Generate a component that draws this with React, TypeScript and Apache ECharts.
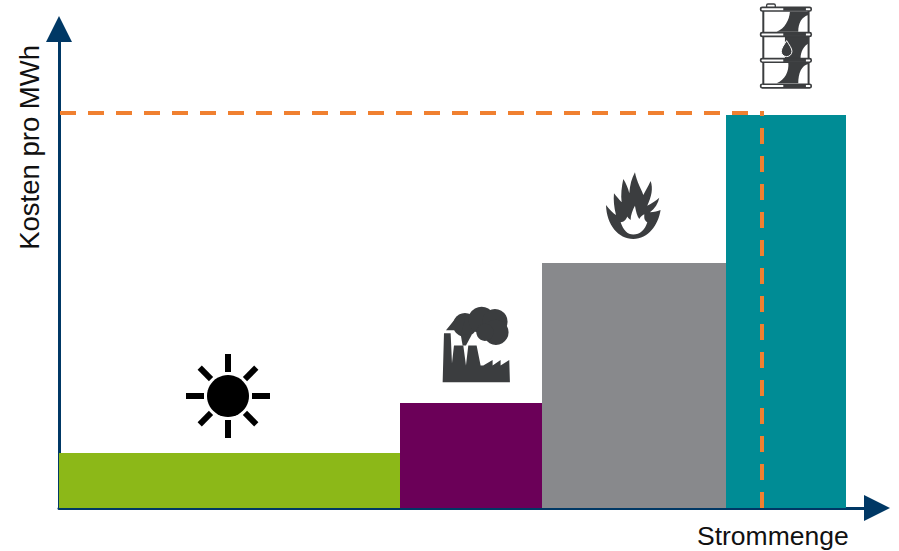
import React, { useEffect, useRef } from "react";
import * as echarts from "echarts";

// Merit order: each source has a cumulative quantity range and a cost per MWh.
const sources = ["Solar", "Kohle", "Gas", "Öl"];
const rangeStart = [0, 341, 483, 667];
const rangeEnd = [341, 483, 667, 787];
const costs = [55, 105, 245, 393];
const priceLevel = [395];
const marginalQuantity = [703];
const xAxisTitle = "Strommenge";
const yAxisTitle = "Kosten pro MWh";

const sourceColors = ["#8cb818", "#6b0058", "#88898c", "#008c95"];
const NAVY = "#003865";
const ORANGE = "#f08030";
const ICON_DARK = "#3b3d3f";

const FACTORY_D =
  "M38 262 L42 115 L62 115 L66 205 L72 152 L100 152 L108 212 L115 152 L140 152 L152 212 L160 212 L188 195 L188 212 L212 195 L212 212 L238 195 L240 262 Z";
const FLAME_D =
  "M130 222 C85 222 50 180 48 120 C60 135 70 145 78 150 C72 125 70 105 72 85 C80 95 88 105 95 112 C92 90 95 65 100 42 C108 55 115 70 118 85 C120 60 125 40 135 22 C140 50 155 75 160 90 C165 80 175 65 182 48 C190 70 185 95 172 122 C185 115 198 108 208 98 C205 115 195 130 180 142 C192 142 205 138 212 135 C205 180 175 222 130 222 Z";
const FLAME_CORE_D =
  "M92 172 C102 172 108 165 112 155 C115 160 118 163 122 165 C122 150 128 135 135 122 C138 140 142 155 148 162 C152 155 158 150 163 148 C163 160 162 165 172 172 C165 195 150 209 130 209 C112 209 100 195 92 172 Z";
const BARREL_SHADE_D =
  "M140 95 C165 85 178 60 180 35 L236 35 L236 45 C215 50 205 70 205 95 Z " +
  "M165 110 L236 110 L236 130 C222 138 212 155 212 175 L165 175 Z " +
  "M140 250 C165 240 178 215 175 188 L236 188 L236 192 C215 195 205 220 205 250 Z";
const DROP_D = "M170 122 C178 135 186 145 186 154 C186 164 178 170 170 170 C162 170 154 164 154 154 C154 145 162 135 170 122 Z";

echarts.graphic.registerShape("factoryIcon", echarts.graphic.extendPath(FACTORY_D, {}));
echarts.graphic.registerShape("flameIcon", echarts.graphic.extendPath(FLAME_D, {}));
echarts.graphic.registerShape("flameCore", echarts.graphic.extendPath(FLAME_CORE_D, {}));
echarts.graphic.registerShape("barrelShade", echarts.graphic.extendPath(BARREL_SHADE_D, {}));
echarts.graphic.registerShape("barrelDrop", echarts.graphic.extendPath(DROP_D, {}));

const sunRays = () =>
  [0, 45, 90, 135, 180, 225, 270, 315].map((deg) => {
    const a = (deg * Math.PI) / 180;
    const outer = deg % 90 === 0 ? 42 : 40;
    return {
      type: "line",
      shape: {
        x1: 228 + 24 * Math.cos(a),
        y1: 396 + 24 * Math.sin(a),
        x2: 228 + outer * Math.cos(a),
        y2: 396 + outer * Math.sin(a),
      },
      style: { stroke: "#000", lineWidth: 6 },
    };
  });

// The smoke cloud is a cluster of overlapping puffs with a trailing wisp.
const smokePuffs = [
  [105, 90, 36],
  [155, 75, 40],
  [195, 80, 38],
  [198, 112, 38],
  [165, 112, 26],
].map(([cx, cy, r]) => ({
  type: "circle",
  shape: { cx, cy, r },
  style: { fill: ICON_DARK },
}));

const smokeWisps = [
  [[48, 106], [82, 64], [105, 70], [95, 112], [76, 106]],
  [[92, 118], [98, 152], [108, 152], [125, 120]],
].map((points) => ({
  type: "polygon",
  shape: { points },
  style: { fill: ICON_DARK },
}));

const barrelHoop = (y: number) => [
  {
    type: "rect",
    shape: { x: 92, y: y - 5, width: 152, height: 11, r: 5 },
    style: { fill: "#fff", stroke: ICON_DARK, lineWidth: 5 },
  },
  {
    type: "rect",
    shape: { x: 160, y: y - 4, width: 68, height: 9 },
    style: { fill: ICON_DARK },
  },
];

const icons = [
  { type: "circle", shape: { cx: 228, cy: 396, r: 21 }, style: { fill: "#000" } },
  ...sunRays(),
  {
    type: "group",
    x: 430,
    y: 295,
    scaleX: 1 / 3,
    scaleY: 1 / 3,
    children: [...smokePuffs, ...smokeWisps, { type: "factoryIcon", style: { fill: ICON_DARK } }],
  },
  {
    type: "group",
    x: 590,
    y: 165,
    scaleX: 1 / 3,
    scaleY: 1 / 3,
    children: [
      { type: "flameIcon", style: { fill: ICON_DARK } },
      { type: "flameCore", style: { fill: "#fff" } },
    ],
  },
  {
    type: "group",
    x: 730,
    y: 0,
    scaleX: 1 / 3,
    scaleY: 1 / 3,
    children: [
      {
        type: "rect",
        shape: { x: 110, y: 12, width: 26, height: 12, r: 4 },
        style: { fill: "#fff", stroke: ICON_DARK, lineWidth: 4 },
      },
      { type: "line", shape: { x1: 100, y1: 27, x2: 100, y2: 258 }, style: { stroke: ICON_DARK, lineWidth: 6 } },
      { type: "line", shape: { x1: 236, y1: 27, x2: 236, y2: 258 }, style: { stroke: ICON_DARK, lineWidth: 6 } },
      { type: "barrelShade", style: { fill: ICON_DARK } },
      { type: "barrelDrop", style: { fill: ICON_DARK, stroke: "#fff", lineWidth: 3 } },
      ...barrelHoop(27),
      ...barrelHoop(103),
      ...barrelHoop(181),
      ...barrelHoop(258),
    ],
  },
];

const renderBlock = (params: any, api: any) => {
  const lo = api.coord([api.value(0), 0]);
  const hi = api.coord([api.value(1), api.value(2)]);
  return {
    type: "rect",
    shape: { x: lo[0], y: hi[1], width: hi[0] - lo[0], height: lo[1] - hi[1] },
    style: { fill: sourceColors[params.dataIndex] },
  };
};

const arrowLine = {
  show: true,
  symbol: ["none", "triangle"],
  symbolSize: [26, 26],
  lineStyle: { color: NAVY, width: 3 },
};

const dashStyle = { color: ORANGE, width: 4, type: [16, 12] as number[] };

export default function App() {
  const ref = useRef<HTMLDivElement>(null);
  useEffect(() => {
    const chart = echarts.init(ref.current!, undefined, { renderer: "svg" });
    chart.setOption({
      animation: false,
      backgroundColor: "#fff",
      grid: { left: 59, top: 29, width: 818, height: 479 },
      xAxis: {
        type: "value",
        min: 0,
        max: 818,
        axisLine: arrowLine,
        axisTick: { show: false },
        axisLabel: { show: false },
        splitLine: { show: false },
        name: xAxisTitle,
        nameLocation: "end",
        nameGap: -180,
        nameMoveOverlap: false,
        nameTextStyle: {
          fontFamily: "Liberation Sans",
          fontSize: 26.5,
          color: "#111",
          verticalAlign: "top",
          align: "left",
          padding: [14, 0, 0, 0],
        },
      },
      yAxis: {
        type: "value",
        min: 0,
        max: 479,
        axisLine: arrowLine,
        axisTick: { show: false },
        axisLabel: { show: false },
        splitLine: { show: false },
        name: yAxisTitle,
        nameLocation: "end",
        nameGap: -16,
        nameRotate: 90,
        nameMoveOverlap: false,
        nameTextStyle: {
          fontFamily: "Liberation Sans",
          fontSize: 27.5,
          color: "#111",
          align: "right",
          verticalAlign: "bottom",
          padding: [0, 0, 16, 0],
        },
      },
      series: [
        {
          type: "custom",
          name: "Kosten",
          renderItem: renderBlock,
          encode: { x: [0, 1], y: 2 },
          data: sources.map((s, i) => ({ name: s, value: [rangeStart[i], rangeEnd[i], costs[i]] })),
          z: 1,
        },
        {
          type: "line",
          showSymbol: false,
          lineStyle: dashStyle,
          data: [
            [1, priceLevel[0]],
            [marginalQuantity[0], priceLevel[0]],
          ],
          z: 3,
        },
        {
          type: "line",
          showSymbol: false,
          lineStyle: dashStyle,
          data: [
            [marginalQuantity[0], 0],
            [marginalQuantity[0], priceLevel[0] + 2],
          ],
          z: 3,
        },
      ],
      graphic: { elements: icons },
    });
    return () => chart.dispose();
  }, []);
  return <div ref={ref} style={{ position: "absolute", left: 0, top: 0, width: 899, height: 551 }} />;
}
